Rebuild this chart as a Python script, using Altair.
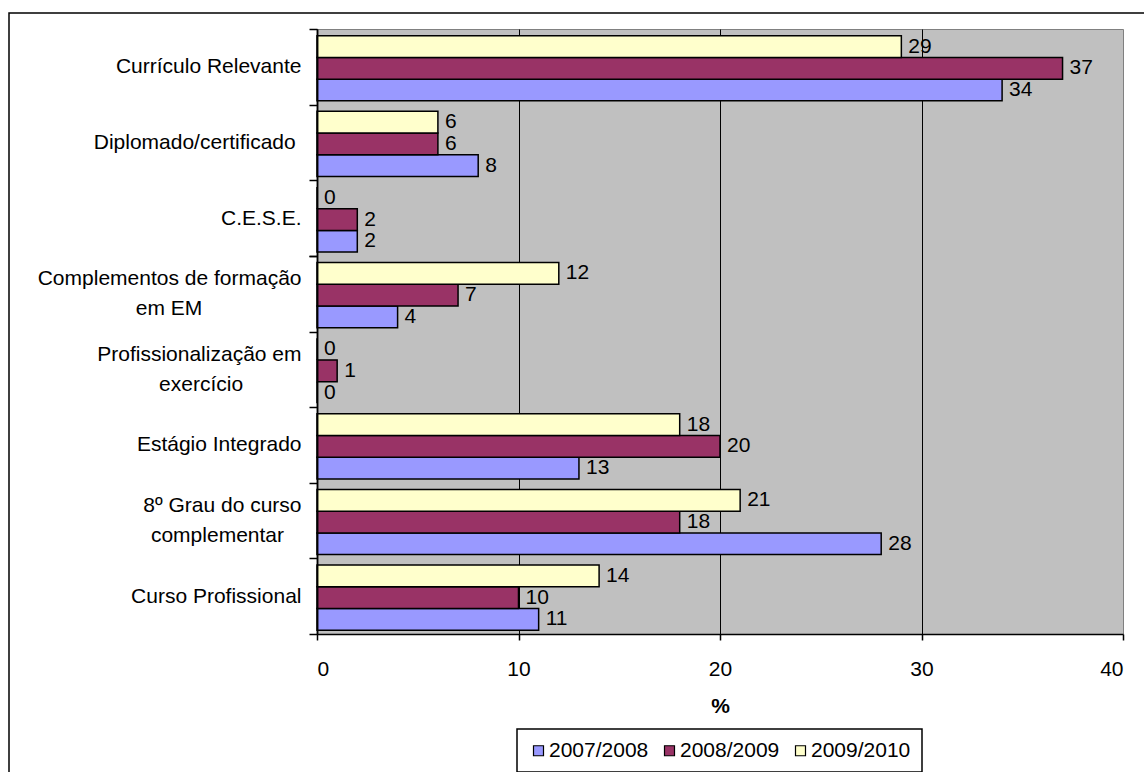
import json

import altair as alt
import pandas as pd

# Categories, top to bottom
categories = [
    "Currículo Relevante",
    "Diplomado/certificado",
    "C.E.S.E.",
    "Complementos de formação em EM",
    "Profissionalização em exercício",
    "Estágio Integrado",
    "8º Grau do curso complementar",
    "Curso Profissional",
]
years = ["2007/2008", "2008/2009", "2009/2010"]
values_2007_2008 = [34, 8, 2, 4, 0, 13, 28, 11]
values_2008_2009 = [37, 6, 2, 7, 1, 20, 18, 10]
values_2009_2010 = [29, 6, 0, 12, 0, 18, 21, 14]
colors = ["#9999FF", "#993366", "#FFFFCC"]
x_ticks = [0, 10, 20, 30, 40]

# Axis label text. Shorter lines get trailing no-break spaces (closed by a
# zero-width space so they are not trimmed) to sit centred under the longer one.
NBSP = "\u00a0"
ZWSP = "\u200b"


def pad(text, n):
    return text + NBSP * n + ZWSP


label_text = {
    "Diplomado/certificado": pad("Diplomado/certificado", 1),
    "Complementos de formação em EM": ["Complementos de formação", pad("em EM", 17)],
    "Profissionalização em exercício": ["Profissionalização em", pad("exercício", 10)],
    "8º Grau do curso complementar": ["8º Grau do curso", pad("complementar", 3)],
}
two_line = [c for c in categories if isinstance(label_text.get(c), list)]
one_line = [c for c in categories if c not in two_line]
label_expr = f"{json.dumps(label_text, ensure_ascii=False)}[datum.value] || datum.label"

rows = []
for year, vals in zip(years, [values_2007_2008, values_2008_2009, values_2009_2010]):
    for cat, v in zip(categories, vals):
        rows.append({"categoria": cat, "ano": year, "valor": v})
df = pd.DataFrame(rows)

FONT = "Liberation Sans"
FS = 21


def category_axis(values, offset):
    return alt.Axis(
        values=values,
        orient="left",
        title=None,
        labelExpr=label_expr,
        labelFontSize=FS,
        labelColor="black",
        labelLimit=0,
        labelLineHeight=30,
        labelBaseline="middle",
        labelOffset=offset,
        labelAlign="right",
        labelPadding=8,
        tickBand="extent",
        tickSize=8,
        tickColor="black",
        tickWidth=1.5,
        domainColor="black",
        domainWidth=1.5,
        zindex=1,
    )


x_axis = alt.Axis(
    values=x_ticks,
    title="%",
    titleFontSize=FS,
    titleFontWeight="bold",
    titleColor="black",
    titlePadding=16,
    labelFontSize=FS,
    labelColor="black",
    labelPadding=18,
    tickSize=6,
    tickColor="black",
    tickWidth=1.5,
    domainColor="black",
    domainWidth=1.5,
    grid=True,
    gridColor="black",
    gridWidth=1,
    gridOpacity={
        "condition": {"test": "datum.value == 0 || datum.value == 40", "value": 0},
        "value": 1,
    },
    zindex=0,
)

x_enc = alt.X("valor:Q", scale=alt.Scale(domain=[0, 40], nice=False), axis=x_axis)
y_scale = alt.Scale(paddingInner=0, paddingOuter=0)
yoff_enc = alt.YOffset("ano:N", sort=years[::-1],
                       scale=alt.Scale(paddingInner=0, paddingOuter=0.24, align=0.64))

# one-line category labels sit on the band centre
bars = alt.Chart(df).mark_bar(stroke="black", strokeWidth=1.5).encode(
    x=x_enc,
    y=alt.Y("categoria:N", sort=categories, scale=y_scale,
            axis=category_axis(one_line, 0)),
    yOffset=yoff_enc,
    color=alt.Color(
        "ano:N",
        scale=alt.Scale(domain=years, range=colors),
        legend=alt.Legend(
            title=None,
            orient="none",
            legendX=200,
            legendY=700,
            direction="horizontal",
            symbolType="square",
            symbolSize=100,
            symbolStrokeColor="black",
            symbolStrokeWidth=1.2,
            labelFontSize=FS,
            labelColor="black",
            labelOffset=0,
            columnPadding=10,
            padding=11,
            strokeColor="black",
            fillColor="white",
        ),
    ),
)

# two-line category labels are lifted half a line so both lines straddle the centre
labels = alt.Chart(df).mark_text(
    align="left", baseline="middle", dx=7, fontSize=FS, color="black"
).encode(
    x=x_enc,
    y=alt.Y("categoria:N", sort=categories, scale=y_scale,
            axis=category_axis(two_line, -15)),
    yOffset=yoff_enc,
    text="valor:Q",
)

# outer frame around the whole figure
frame = alt.Chart(pd.DataFrame({"f": [0]})).mark_rect(
    fillOpacity=0, stroke="black", strokeWidth=1.5
).encode(
    x=alt.value(-308), x2=alt.value(900), y=alt.value(-16), y2=alt.value(800)
)

chart = (
    alt.layer(frame, bars, labels)
    .resolve_scale(y="shared")
    .resolve_axis(y="independent")
    .properties(
        width=806,
        height=605,
        padding={"left": 317, "top": 29, "right": 21, "bottom": 138},
        autosize=alt.AutoSizeParams(type="none"),
        background="white",
    )
    .configure(font=FONT)
    .configure_view(fill="#C0C0C0", stroke="#808080", strokeWidth=1)
    .configure_legend(strokeWidth=1.5)
)

chart.save("out.html", embed_options={"renderer": "svg", "actions": False})
